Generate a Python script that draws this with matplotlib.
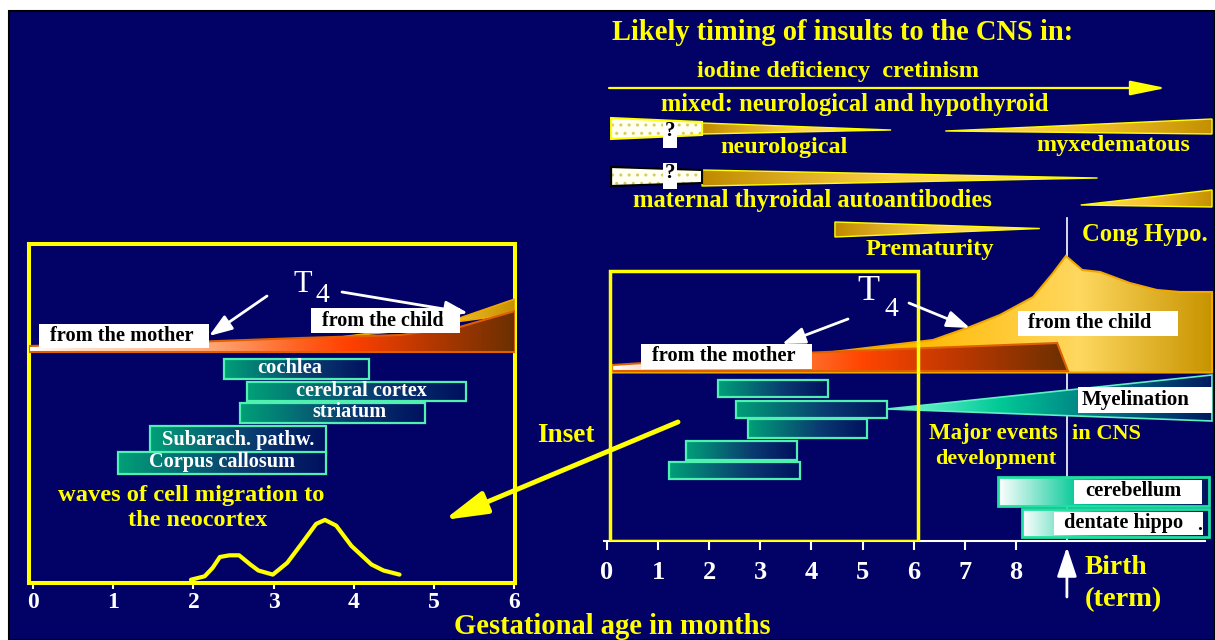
import numpy as np
import matplotlib
matplotlib.use("Agg")
import matplotlib.pyplot as plt
from matplotlib.patches import Polygon, Rectangle, FancyArrowPatch
from matplotlib.colors import LinearSegmentedColormap

# ---------------- data ----------------
RIGHT_TICKS = list(range(9))
LEFT_TICKS = list(range(7))
BIRTH_MONTH = 9.0

# development events (months) - right panel
R_BAR_START = [2.17, 2.52, 2.76, 1.55, 1.21]
R_BAR_END = [4.32, 5.48, 5.09, 3.72, 3.78]
R_BAR_TOP = [380, 401, 419, 441, 462]
R_BAR_BOT = [397, 418, 438, 460, 479]

# development events (months) - inset
L_BAR_LABELS = ["cochlea", "cerebral cortex", "striatum", "Subarach. pathw.", "Corpus callosum"]
L_BAR_START = [2.38, 2.67, 2.58, 1.46, 1.06]
L_BAR_END = [4.19, 5.40, 4.89, 3.65, 3.65]
L_BAR_TOP = [359, 382, 403, 426, 452]
L_BAR_BOT = [379, 401, 423, 455, 474]
L_LABEL_X = [3.20, 4.10, 3.94, 2.56, 2.36]
L_LABEL_Y = [368, 391, 412, 440, 462]
L_LABEL_W = [65, 131, 74, 153, 147]

# late events
LATE_LABELS = ["cerebellum", "dentate hippo"]
LATE_START = [7.65, 8.12]
LATE_END = [11.78, 11.78]
LATE_TOP = [477, 509]
LATE_BOT = [506, 537]

# T4 curves - right panel
R_CHILD_M = [0.10, 1.82, 3.78, 4.42, 5.73, 6.38, 7.10, 7.69, 8.34, 8.73, 8.98, 9.30, 9.65, 10.23, 10.76, 11.21, 11.84]
R_CHILD_TOP = [366, 361, 355, 352, 344, 340, 327, 315, 297, 273, 256, 270, 272, 283, 290, 292, 292]
R_MOTHER_M = [0.10, 3.78, 8.81, 9.02]
R_MOTHER_TOP = [365, 353, 343, 371]
R_BASE = 371

# T4 curves - inset
L_MOTHER_M = [-0.05, 2.08, 3.33, 4.58, 5.32, 6.01]
L_MOTHER_TOP = [346, 341.7, 338, 335, 327, 311]
L_CHILD_M = [3.87, 4.58, 5.32, 6.01]
L_CHILD_TOP = [336.7, 331, 318, 299]
L_BASE = 352

# waves of cell migration (inset)
WAVE_M = [1.97, 2.14, 2.24, 2.33, 2.45, 2.57, 2.71, 2.81, 2.99, 3.17, 3.36, 3.53, 3.64, 3.78, 3.97, 4.22, 4.37, 4.57]
WAVE_Y = [579.7, 576.3, 567.8, 557.0, 555.3, 555.3, 564.5, 570.5, 574.6, 562.8, 542.5, 523.9, 519.9, 525.6, 545.9, 564.5, 570.5, 574.6]

# insult timing wedges (months)
IODINE_RANGE = [0.04, 10.94]
NEURO_DOTTED = [0.08, 1.86]
NEURO_TIP = 5.56
AUTOAB_DOTTED = [0.08, 1.86]
AUTOAB_TIP = 9.60
MYX_RANGE = [6.62, 11.84]
CONG_RANGE = [9.27, 11.84]
PREM_RANGE = [4.46, 8.47]

# ---------------- style ----------------
W, H = 1215, 640
NAVY = "#020266"
YEL = "#FFFF00"
SERIF = ["Liberation Serif", "DejaVu Serif"]
plt.rcParams["font.family"] = SERIF
plt.rcParams["font.weight"] = "bold"

fig = plt.figure(figsize=(W / 100, H / 100), dpi=100, facecolor="white")
renderer = fig.canvas.get_renderer()
fig.add_artist(Rectangle((9 / W, 0), (W - 9) / W, (H - 10.5) / H, transform=fig.transFigure,
                         facecolor=NAVY, edgecolor="black", lw=1.5, zorder=0))


def fit(t, target_w):
    w = t.get_window_extent(renderer=renderer).width
    t.set_fontsize(t.get_fontsize() * target_w / w)
    return t


def ftext(px, py, s, color, target_w=None, size=15, weight="bold", ha="center", z=10):
    t = fig.text(px / W, 1 - py / H, s, color=color, fontsize=size, fontweight=weight,
                 ha=ha, va="center", family=SERIF, zorder=z)
    if target_w:
        fit(t, target_w)
    return t


def grad_poly(ax, xs, ys, colors, positions=None, edge=None, lw=0.0, z=3):
    pts = np.column_stack([xs, ys])
    clip = Polygon(pts, closed=True, facecolor="none", edgecolor="none", transform=ax.transData)
    ax.add_patch(clip)
    if positions is None:
        positions = np.linspace(0, 1, len(colors))
    cmap = LinearSegmentedColormap.from_list("g", list(zip(positions, colors)))
    im = ax.imshow(np.linspace(0, 1, 256)[None, :], cmap=cmap,
                   extent=(min(xs), max(xs), max(ys), min(ys)), aspect="auto",
                   interpolation="bilinear", zorder=z)
    im.set_clip_path(clip)
    if edge:
        ax.add_patch(Polygon(pts, closed=True, fill=False, edgecolor=edge, lw=lw,
                             zorder=z + 0.05, joinstyle="miter"))


def rect_xy(x0, x1, y0, y1):
    return [x0, x1, x1, x0], [y0, y0, y1, y1]


def arrow(ax, p0, p1, color, lw, hl, hw, z=8):
    a = FancyArrowPatch(p0, p1, arrowstyle=f"-|>,head_length={hl},head_width={hw}", mutation_scale=1,
                        color=color, lw=lw, shrinkA=0, shrinkB=0, zorder=z, clip_on=False)
    ax.add_patch(a)
    return a


# ---------------- right panel ----------------
R0, RPX = 607, 51.1
axR = fig.add_axes([600 / W, 1 - 541 / H, 615 / W, 531 / H])
axR.set_facecolor("none")
xlR = ((600 - R0) / RPX, (1215 - R0) / RPX)
axR.set_xlim(*xlR)
axR.set_ylim(541, 10)
axR.set_autoscale_on(False)

# birth line
axR.plot([BIRTH_MONTH, BIRTH_MONTH], [218, 541], color="white", lw=1.2, zorder=1)

# iodine arrow
arrow(axR, (IODINE_RANGE[0], 88), (IODINE_RANGE[1], 88), YEL, 1.6, 22, 4.5)


def dotted(ax, x0, x1, top0, bot0, top1, bot1, outline):
    pts = np.array([[x0, top0], [x1, top1], [x1, bot1], [x0, bot0]])
    ax.add_patch(Polygon(pts, closed=True, facecolor="#FFFFF2", edgecolor="#D8CC60", lw=0,
                         hatch="..", zorder=3))
    ax.add_patch(Polygon(pts, closed=True, fill=False, edgecolor=outline, lw=1.5, zorder=3.1))


GOLD_R = ["#C08A00", "#FFD54A", "#FFE680"]
GOLD_L = ["#FFE070", "#F5C530", "#C49000"]

dotted(axR, NEURO_DOTTED[0], NEURO_DOTTED[1], 118, 139, 122, 135, YEL)
grad_poly(axR, [NEURO_DOTTED[1], NEURO_TIP, NEURO_DOTTED[1]], [123, 130, 134], GOLD_R, edge=YEL, lw=1.0)
dotted(axR, AUTOAB_DOTTED[0], AUTOAB_DOTTED[1], 167, 186, 170, 183, "black")
grad_poly(axR, [AUTOAB_DOTTED[1], AUTOAB_TIP, AUTOAB_DOTTED[1]], [170, 178, 186], GOLD_R, edge=YEL, lw=1.0)
grad_poly(axR, [MYX_RANGE[0], MYX_RANGE[1], MYX_RANGE[1]], [131, 119, 134], GOLD_L, edge=YEL, lw=1.0)
grad_poly(axR, [CONG_RANGE[0], CONG_RANGE[1], CONG_RANGE[1]], [205, 190, 207], GOLD_L, edge=YEL, lw=1.0)
grad_poly(axR, [PREM_RANGE[0], PREM_RANGE[1], PREM_RANGE[0]], [222, 228.5, 237], GOLD_R, edge=YEL, lw=1.0)

m = lambda px: (px - R0) / RPX

# question-mark boxes
for yc in (134.5, 175.5):
    q0, q1 = m(663), m(677)
    axR.add_patch(Rectangle((q0, yc - 13), q1 - q0, 26, facecolor="white", edgecolor="none", zorder=4))
    axR.text((q0 + q1) / 2, yc - 3, "?", color="black", fontsize=15, ha="center", va="center", zorder=4.5)

# T4 areas
cx = R_CHILD_M + [R_CHILD_M[-1], R_CHILD_M[0]]
cy = R_CHILD_TOP + [R_BASE + 1.5, R_BASE + 1.5]
grad_poly(axR, cx, cy, ["#F0A000", "#FFB800", "#FFD860", "#C89400"], [0, 0.5, 0.78, 1],
          edge="#F0A800", lw=1.5, z=3)
mx = R_MOTHER_M + [R_MOTHER_M[0]]
my = R_MOTHER_TOP + [R_BASE]
grad_poly(axR, mx, my, ["#FFFFFF", "#FFD0B0", "#FF9050", "#FF4500", "#C03800", "#6B3000"],
          [0, 0.1, 0.33, 0.55, 0.75, 1], edge="#E06000", lw=1.5, z=3.5)


def label_box(ax, x0, x1, y0, y1, s, tx, ty, tw, z=6):
    ax.add_patch(Rectangle((x0, y0), x1 - x0, y1 - y0, facecolor="white", edgecolor="none", zorder=z))
    t = ax.text(tx, ty, s, color="black", fontsize=14, ha="center", va="center", zorder=z + 0.1)
    fit(t, tw)


label_box(axR, m(641), m(812), 344, 369, "from the mother", m(724), 356, 143)
label_box(axR, m(1018), m(1178), 311, 336, "from the child", m(1090), 323, 123)

# T4 label and arrows
axR.text(m(868.5), 292, "T", color="white", fontsize=26, fontweight="normal", ha="center", va="center", zorder=8)
axR.text(m(891), 309, "4", color="white", fontsize=20, fontweight="normal", ha="center", va="center", zorder=8)
arrow(axR, (m(848), 319), (m(782), 344), "white", 2.0, 14, 5)
arrow(axR, (m(909), 303), (m(970), 328), "white", 2.0, 14, 5)

# myelination wedge
grad_poly(axR, [R_BAR_END[1], xlR[1] - 0.06, xlR[1] - 0.06], [409, 375, 421],
          ["#80FFD8", "#00C896", "#005078", "#001A60"], [0, 0.35, 0.8, 1], edge="#60F0C0", lw=1.2, z=2.5)
label_box(axR, m(1078), m(1212), 387, 413, "Myelination", m(1136), 400, 108)

# development bars
BAR_COLS = ["#00A078", "#0A3A70", "#00105E"]
for x0, x1, y0, y1 in zip(R_BAR_START, R_BAR_END, R_BAR_TOP, R_BAR_BOT):
    xs, ys = rect_xy(x0, x1, y0, y1)
    grad_poly(axR, xs, ys, BAR_COLS, [0, 0.6, 1], edge="#50F0B0", lw=1.6, z=4)

for lab, x0, x1, y0, y1 in zip(LATE_LABELS, LATE_START, LATE_END, LATE_TOP, LATE_BOT):
    xs, ys = rect_xy(x0, x1, y0, y1)
    grad_poly(axR, xs, ys, ["#FFFFFF", "#00C896", "#001060"], [0, 0.38, 1], edge="#20E0A0", lw=2.0, z=4)
label_box(axR, m(1074), m(1202), 480, 504, LATE_LABELS[0], m(1133), 491, 96)
label_box(axR, m(1054), m(1203), 512, 535, LATE_LABELS[1], m(1124), 523, 119)
axR.text(m(1200), 526, ".", color="black", fontsize=14, ha="center", va="center", zorder=7)

# inset rectangle (right)
axR.add_patch(Rectangle((m(610), 271), m(918) - m(610), 541 - 271, fill=False, edgecolor=YEL,
                        lw=2.5, zorder=7))

# axis styling
for s in ("top", "left", "right"):
    axR.spines[s].set_visible(False)
axR.spines["bottom"].set_color("white")
axR.spines["bottom"].set_linewidth(1.5)
axR.spines["bottom"].set_bounds(-0.05, m(1205))
axR.set_yticks([])
axR.set_xticks(RIGHT_TICKS)
axR.set_xticklabels([str(t) for t in RIGHT_TICKS])
axR.tick_params(axis="x", colors="white", length=6.5, width=1.5, pad=8, labelsize=19)

# birth arrow
arrow(axR, (BIRTH_MONTH, 597), (BIRTH_MONTH, 547), "white", 2.0, 18, 6)

# ---------------- left inset ----------------
L0, LPX = 33, 80.2
axL = fig.add_axes([29 / W, 1 - 583 / H, (515 - 29) / W, (583 - 243.5) / H])
axL.set_facecolor("none")
axL.set_xlim((29 - L0) / LPX, (515 - L0) / LPX)
axL.set_ylim(583, 243.5)
axL.set_autoscale_on(False)
lm = lambda px: (px - L0) / LPX

lcx = L_CHILD_M + [L_CHILD_M[-1]]
lcy = L_CHILD_TOP + [L_MOTHER_TOP[-1] + 3]
grad_poly(axL, lcx, lcy, ["#FFB800", "#FFD040", "#C89000"], edge="#F0A800", lw=1.2, z=3)
lmx = L_MOTHER_M + [L_MOTHER_M[-1], L_MOTHER_M[0]]
lmy = L_MOTHER_TOP + [L_BASE, L_BASE]
grad_poly(axL, lmx, lmy, ["#FFFFFF", "#FFE0C8", "#FFB080", "#FF6020", "#FF4000", "#B83800", "#6B3000"],
          [0, 0.1, 0.35, 0.56, 0.66, 0.82, 1], edge="#E06000", lw=1.5, z=3.5)

label_box(axL, lm(39), lm(209), 324, 348, "from the mother", lm(122), 336, 143)
label_box(axL, lm(311), lm(460), 308, 333, "from the child", lm(383), 321, 122)
axL.text(lm(302.5), 284, "T", color="white", fontsize=22, fontweight="normal", ha="center", va="center", zorder=8)
axL.text(lm(322.5), 296, "4", color="white", fontsize=20, fontweight="normal", ha="center", va="center", zorder=8)
arrow(axL, (lm(267), 296), (lm(209), 336), "white", 2.0, 14, 5)
arrow(axL, (lm(342), 292), (lm(468), 313), "white", 2.0, 14, 5)

order = [0, 1, 2, 4, 3]
for i in order:
    xs, ys = rect_xy(L_BAR_START[i], L_BAR_END[i], L_BAR_TOP[i], L_BAR_BOT[i])
    grad_poly(axL, xs, ys, BAR_COLS, [0, 0.6, 1], edge="#50F0B0", lw=1.6, z=4 + i * 0.1)
for lab, x, y, w in zip(L_BAR_LABELS, L_LABEL_X, L_LABEL_Y, L_LABEL_W):
    t = axL.text(x, y, lab, color="white", fontsize=14, ha="center", va="center", zorder=6)
    fit(t, w)

axL.plot(WAVE_M, WAVE_Y, color=YEL, lw=3.0, solid_capstyle="round", solid_joinstyle="round", zorder=5)

for s in axL.spines.values():
    s.set_color(YEL)
    s.set_linewidth(2.9)
axL.set_yticks([])
axL.set_xticks(LEFT_TICKS)
axL.set_xticklabels([str(t) for t in LEFT_TICKS])
axL.tick_params(axis="x", colors="white", length=4, width=1.5, pad=2.5, labelsize=17)

# ---------------- texts ----------------
ftext(843, 33, "Likely timing of insults to the CNS in:", YEL, 462, 18)
ftext(838, 71, "iodine deficiency  cretinism", YEL, 283)
ftext(855, 104, "mixed: neurological and hypothyroid", YEL, 389)
ftext(784, 147, "neurological", YEL, 128)
ftext(1113, 145, "myxedematous", YEL, 154)
ftext(812, 201, "maternal thyroidal autoantibodies", YEL, 360)
ftext(930, 249, "Prematurity", YEL, 129)
ftext(1145, 234, "Cong Hypo.", YEL, 126)
ftext(993, 434, "Major events", YEL, 129)
ftext(996, 459, "development", YEL, 122)
ftext(1107, 434, "in CNS", YEL, 69)
ftext(1116, 568, "Birth", YEL, 63)
ftext(1123, 600, "(term)", YEL, 77)
ftext(566, 435, "Inset", YEL, 58)
ftext(612, 627, "Gestational age in months", YEL, 318)
ftext(191, 496, "waves of cell migration to", YEL, 267)
ftext(198, 521, "the neocortex", YEL, 140)

# big inset arrow (figure coordinates)
fa = FancyArrowPatch((678 / W, 1 - 422 / H), (444 / W, 1 - 520 / H), transform=fig.transFigure,
                     arrowstyle="-|>,head_length=26,head_width=7", mutation_scale=1, color=YEL,
                     lw=3.5, shrinkA=0, shrinkB=0, zorder=9)
fig.add_artist(fa)

fig.savefig("out.png", dpi=100, facecolor=fig.get_facecolor())
